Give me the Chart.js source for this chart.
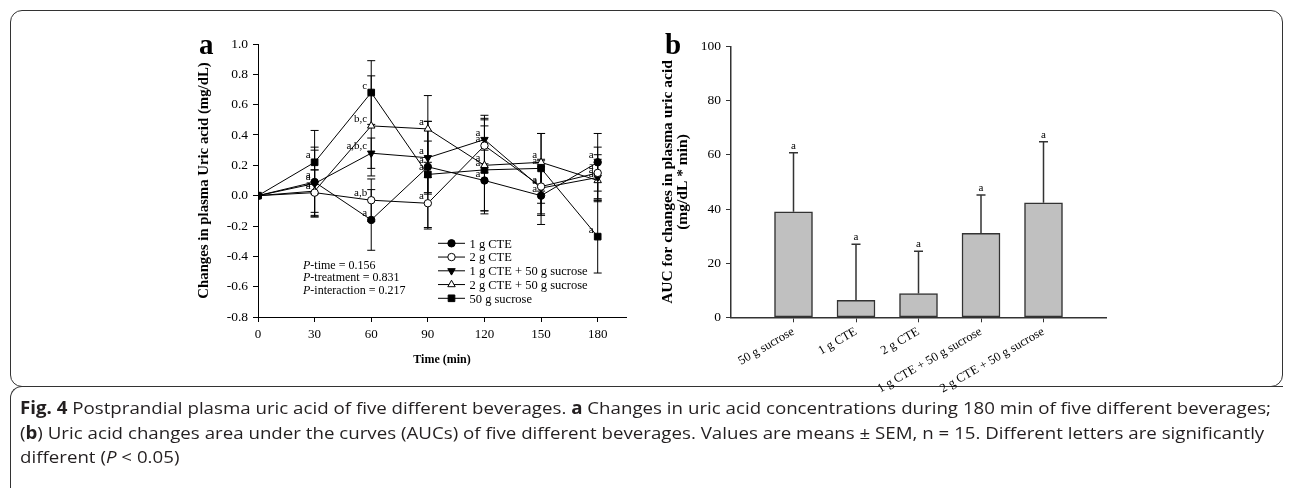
<!DOCTYPE html>
<html><head><meta charset="utf-8">
<script src="https://cdn.jsdelivr.net/npm/chart.js@4.4.0/dist/chart.umd.min.js"></script>
<style>
html,body{margin:0;padding:0;background:#fff;}
body{width:1292px;height:488px;position:relative;overflow:hidden;}
#frame{position:absolute;left:10px;top:10px;width:1273px;height:377px;border:1.5px solid #333;border-radius:12px;box-sizing:border-box;}
#capframe{position:absolute;left:10px;top:386px;width:1273px;height:140px;border:1.5px solid #333;border-radius:12px 0 0 0;border-right:none;border-bottom:none;box-sizing:border-box;}
canvas{position:absolute;}
#cA{left:185px;top:20px;}
#cB{left:650px;top:20px;}
.plab{position:absolute;font-family:'Liberation Serif',serif;font-weight:bold;font-size:29px;line-height:29px;color:#000;}
#caption{position:absolute;left:20px;top:396px;font-family:'Open Sans','Noto Sans',sans-serif;font-size:17px;line-height:24.5px;color:#231f20;white-space:nowrap;transform-origin:0 0;}
#caption b{font-weight:700;}
</style></head>
<body>
<div id="frame"></div>
<div id="capframe"></div>
<canvas id="cA" width="455" height="347"></canvas>
<canvas id="cB" width="470" height="380"></canvas>
<div class="plab" style="left:199px;top:30px;">a</div>
<div class="plab" style="left:665px;top:30px;">b</div>
<div id="caption">
<div><b>Fig. 4</b> Postprandial plasma uric acid of five different beverages. <b>a</b> Changes in uric acid concentrations during 180 min of five different beverages;</div>
<div>(<b>b</b>) Uric acid changes area under the curves (AUCs) of five different beverages. Values are means ± SEM, n = 15. Different letters are significantly</div>
<div>different (<i>P</i> &lt; 0.05)</div>
</div>
<script>
// ---------- Panel a data ----------
const timePoints = [0, 30, 60, 90, 120, 150, 180];
const seriesNames = ['1 g CTE', '2 g CTE', '1 g CTE + 50 g sucrose', '2 g CTE + 50 g sucrose', '50 g sucrose'];
const cte1 = [0, 0.09, -0.16, 0.19, 0.10, 0.00, 0.22];
const cte1Err = [0, 0.23, 0.20, 0.17, 0.20, 0.19, 0.19];
const cte2 = [0, 0.02, -0.03, -0.05, 0.33, 0.06, 0.15];
const cte2Err = [0, 0.15, 0.14, 0.17, 0.18, 0.18, 0.17];
const cte1Suc = [0, 0.08, 0.28, 0.25, 0.37, 0.05, 0.12];
const cte1SucErr = [0, 0.22, 0.10, 0.24, 0.16, 0.18, 0.15];
const cte2Suc = [0, 0.03, 0.46, 0.44, 0.20, 0.22, 0.10];
const cte2SucErr = [0, 0.14, 0.33, 0.22, 0.30, 0.19, 0.14];
const suc50 = [0, 0.22, 0.68, 0.14, 0.17, 0.18, -0.27];
const suc50Err = [0, 0.21, 0.21, 0.35, 0.29, 0.23, 0.24];
const cte1Letters = ['', 'a', 'a', 'a', 'a', 'a', 'a'];
const cte2Letters = ['', 'a', 'a,b', 'a', 'a', 'a', 'a'];
const cte1SucLetters = ['', 'a', 'a,b,c', 'a', 'a', 'a', 'a'];
const cte2SucLetters = ['', 'a', 'b,c', 'a', 'a', 'a', 'a'];
const suc50Letters = ['', 'a', 'c', 'a', 'a', 'a', 'a'];
const pStats = [['-time = ', '0.156'], ['-treatment = ', '0.831'], ['-interaction = ', '0.217']];

// ---------- Panel b data ----------
const aucCategories = ['50 g sucrose', '1 g CTE', '2 g CTE', '1 g CTE + 50 g sucrose', '2 g CTE + 50 g sucrose'];
const aucMeans = [39.0, 6.3, 8.8, 31.0, 42.3];
const aucSem = [21.8, 20.7, 15.6, 14.2, 22.6];
const aucLetters = ['a', 'a', 'a', 'a', 'a'];

const serif = "'Liberation Serif','Times New Roman',serif";
Chart.defaults.font.family = serif;
Chart.defaults.color = '#000';

function xy(vals){ return timePoints.map((t,i)=>({x:t,y:vals[i]})); }

const styleA = [
  {pointStyle:'circle', fillC:'#000', rot:0, r:3.7},
  {pointStyle:'circle', fillC:'#fff', rot:0, r:3.7},
  {pointStyle:'triangle', fillC:'#000', rot:180, r:4.3},
  {pointStyle:'triangle', fillC:'#fff', rot:0, r:4.3},
  {pointStyle:'rect', fillC:'#000', rot:0, r:4.7}
];
const valsA = [cte1, cte2, cte1Suc, cte2Suc, suc50];
const errsA = [cte1Err, cte2Err, cte1SucErr, cte2SucErr, suc50Err];
const lettersA = [cte1Letters, cte2Letters, cte1SucLetters, cte2SucLetters, suc50Letters];

const datasetsA = seriesNames.map((name,i)=>({
  label:name, data:xy(valsA[i]), err:errsA[i], letters:lettersA[i],
  borderColor:'#000', borderWidth:1, tension:0, fill:false,
  pointStyle:styleA[i].pointStyle, rotation:styleA[i].rot, pointRadius:styleA[i].r,
  pointBackgroundColor:styleA[i].fillC, pointBorderColor:'#000', pointBorderWidth:1
}));

const errorBarsA = {
  id:'errorBarsA',
  beforeDatasetsDraw(chart){
    const ctx = chart.ctx, ys = chart.scales.y;
    ctx.save(); ctx.strokeStyle='#000'; ctx.lineWidth=1;
    chart.data.datasets.forEach((ds,i)=>{
      const meta = chart.getDatasetMeta(i);
      meta.data.forEach((el,j)=>{
        const e = ds.err[j]; if(!e) return;
        const v = ds.data[j].y;
        const yT = ys.getPixelForValue(v+e), yB = ys.getPixelForValue(v-e);
        ctx.beginPath();
        ctx.moveTo(el.x, yT); ctx.lineTo(el.x, yB);
        ctx.moveTo(el.x-4, yT); ctx.lineTo(el.x+4, yT);
        ctx.moveTo(el.x-4, yB); ctx.lineTo(el.x+4, yB);
        ctx.stroke();
      });
    });
    ctx.restore();
  },
  afterDatasetsDraw(chart){
    const ctx = chart.ctx, ca = chart.chartArea;
    ctx.save();
    // significance letters
    ctx.font = '11px ' + serif; ctx.fillStyle='#000'; ctx.textAlign='right'; ctx.textBaseline='alphabetic';
    chart.data.datasets.forEach((ds,i)=>{
      const meta = chart.getDatasetMeta(i);
      meta.data.forEach((el,j)=>{
        const L = ds.letters[j]; if(!L) return;
        ctx.fillText(L, el.x-4, el.y-4);
      });
    });
    // legend
    const lx = ca.left + 180, ly = ca.top + 199.3, dy = 13.75;
    ctx.font = '12.5px ' + serif; ctx.textAlign='left'; ctx.textBaseline='middle';
    chart.data.datasets.forEach((ds,i)=>{
      const y = ly + i*dy;
      ctx.strokeStyle='#000'; ctx.lineWidth=1;
      ctx.beginPath(); ctx.moveTo(lx, y); ctx.lineTo(lx+27, y); ctx.stroke();
      ctx.fillStyle = ds.pointBackgroundColor; ctx.strokeStyle='#000';
      Chart.helpers.drawPoint(ctx, {pointStyle:ds.pointStyle, rotation:ds.rotation, radius:ds.pointRadius, borderWidth:1}, lx+13.5, y);
      ctx.fillStyle='#000';
      ctx.fillText(ds.label, lx+31.5, y+1);
    });
    // P statistics
    const px = ca.left + 45, py = ca.top + 222;
    pStats.forEach((p,k)=>{
      const y = py + k*12.2;
      ctx.font = 'italic 12px ' + serif; ctx.fillText('P', px, y);
      const w = ctx.measureText('P').width;
      ctx.font = '12px ' + serif; ctx.fillText(p[0] + p[1], px + w, y);
    });
    ctx.restore();
  }
};

new Chart(document.getElementById('cA'), {
  type:'line',
  data:{datasets:datasetsA},
  options:{
    responsive:false, animation:false, devicePixelRatio:1,
    layout:{padding:{top:24, right:14, left:0, bottom:0}},
    plugins:{legend:{display:false}, tooltip:{enabled:false}},
    scales:{
      x:{type:'linear', min:0, max:195,
        ticks:{stepSize:30, includeBounds:false, maxRotation:0, color:'#000', font:{family:serif,size:13}, padding:5},
        grid:{drawOnChartArea:false, drawTicks:true, tickLength:5, color:'#000'},
        border:{display:true, color:'#000', width:1},
        title:{display:true, text:'Time (min)', color:'#000', font:{family:serif,size:12,weight:'bold'}, padding:{top:8,bottom:0}},
        afterFit(s){ s.height = 50; }
      },
      y:{min:-0.8, max:1.0,
        ticks:{stepSize:0.2, callback:v=>Number(v).toFixed(1), color:'#000', font:{family:serif,size:13.5}, padding:5},
        grid:{drawOnChartArea:false, drawTicks:true, tickLength:5, color:'#000'},
        border:{display:true, color:'#000', width:1},
        title:{display:true, text:'Changes in plasma Uric acid (mg/dL)', color:'#000', font:{family:serif,size:14.8,weight:'bold'}, padding:{top:10.5,bottom:0}},
        afterFit(s){ s.width = 73; }
      }
    }
  },
  plugins:[errorBarsA]
});

// ---------- Panel b ----------
const labelsB = [''].concat(aucCategories, ['']);
const dataB = [null].concat(aucMeans, [null]);
const errB = [null].concat(aucSem, [null]);
const letB = [''].concat(aucLetters, ['']);

const errorBarsB = {
  id:'errorBarsB',
  afterDatasetsDraw(chart){
    const ctx = chart.ctx, ys = chart.scales.y;
    const ds = chart.data.datasets[0], meta = chart.getDatasetMeta(0);
    ctx.save(); ctx.strokeStyle='#333'; ctx.lineWidth=1.5;
    ctx.font = '11px ' + serif; ctx.fillStyle='#000'; ctx.textAlign='center'; ctx.textBaseline='alphabetic';
    meta.data.forEach((el,j)=>{
      const v = ds.data[j], e = ds.err[j];
      if(v==null) return;
      const yT = ys.getPixelForValue(v+e), y0 = ys.getPixelForValue(v);
      ctx.beginPath();
      ctx.moveTo(el.x, y0); ctx.lineTo(el.x, yT);
      ctx.moveTo(el.x-4.5, yT); ctx.lineTo(el.x+4.5, yT);
      ctx.stroke();
      ctx.fillText(ds.letters[j], el.x, yT-4);
    });
    ctx.restore();
  }
};

new Chart(document.getElementById('cB'), {
  type:'bar',
  data:{labels:labelsB, datasets:[{data:dataB, err:errB, letters:letB, backgroundColor:'#c0c0c0', borderColor:'#333', borderWidth:1.5, borderSkipped:false, barThickness:38}]},
  options:{
    responsive:false, animation:false, devicePixelRatio:1,
    layout:{padding:{top:26.7, right:14, left:0, bottom:0}},
    plugins:{legend:{display:false}, tooltip:{enabled:false}},
    scales:{
      x:{type:'category', offset:false,
        ticks:{autoSkip:false, minRotation:30, maxRotation:30, color:'#000', font:{family:serif,size:12.5}, padding:2},
        grid:{offset:false, drawOnChartArea:false, drawTicks:true, tickLength:5,
              color:(c)=> (c.index===0 || c.index===labelsB.length-1) ? 'rgba(0,0,0,0)' : '#333'},
        border:{display:true, color:'#333', width:1.5},
        afterFit(s){ s.height = 82.7; }
      },
      y:{min:0, max:100,
        ticks:{stepSize:20, color:'#000', font:{family:serif,size:13.5}, padding:5},
        grid:{drawOnChartArea:false, drawTicks:true, tickLength:5, color:'#333'},
        border:{display:true, color:'#333', width:1.5},
        title:{display:true, text:['AUC for changes in plasma uric acid','(mg/dL * min)'], color:'#000', font:{family:serif,size:15.5,weight:'bold',lineHeight:0.98}, padding:{top:10.5,bottom:0}},
        afterFit(s){ s.width = 81; }
      }
    }
  },
  plugins:[errorBarsB]
});

// fit caption width to reference line length
(function(){
  const cap = document.getElementById('caption');
  const first = cap.firstElementChild;
  const r = document.createRange(); r.selectNodeContents(first);
  const w = r.getBoundingClientRect().width;
  const target = 1251;
  if (w > 0) cap.style.transform = 'scaleX(' + (target / w) + ')';
})();
</script>
</body></html>
